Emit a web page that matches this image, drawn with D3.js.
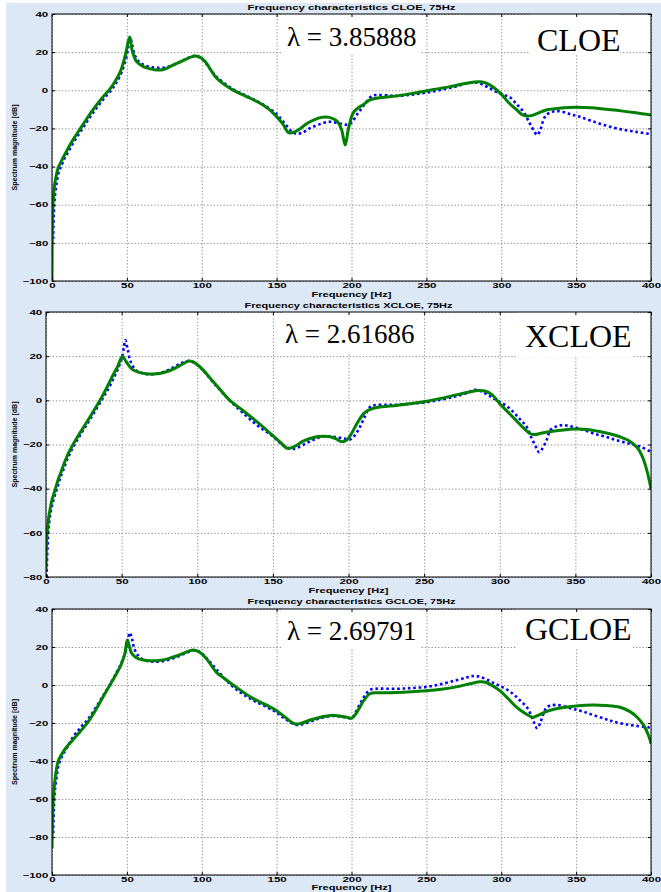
<!DOCTYPE html>
<html>
<head>
<meta charset="utf-8">
<script src="https://cdn.jsdelivr.net/npm/d3@7"></script>
<style>
  html, body { margin: 0; padding: 0; background: #ffffff; }
  svg { display: block; }
</style>
</head>
<body>
<svg id="fig" width="661" height="892"></svg>
<script>
// ---- axis ticks and labels ----
const freqTicks = [0, 50, 100, 150, 200, 250, 300, 350, 400];
const dbTicksWide = [-100, -80, -60, -40, -20, 0, 20, 40];
const dbTicksNarrow = [-80, -60, -40, -20, 0, 20, 40];
const methodNames = ["CLOE", "XCLOE", "GCLOE"];
const plotTitles = [
  "Frequency characteristics CLOE, 75Hz",
  "Frequency characteristics XCLOE, 75Hz",
  "Frequency characteristics GCLOE, 75Hz"
];
const lambdaValues = ["3.85888", "2.61686", "2.69791"];
const xLabel = "Frequency [Hz]";
const yLabel = "Spectrum magnitude [dB]";

// ---- spectra: [frequency Hz, magnitude dB] ----
// identified model (solid green)
const cloeModel = [[0,-100],[0.15,-78],[0.4,-66],[0.8,-58],[1.5,-51],[2.5,-46],[4,-41],[6,-37.5],[8,-34.5],[10,-31.5],[14,-26],[19,-20],[24,-14],[29,-8.5],[34,-3.5],[38.5,0.5],[42,4.5],[45.5,9.5],[48.5,17],[50,22],[51,26],[52,28],[53.5,21],[56.5,15],[61,12.4],[66,11.2],[70,10.6],[75,11],[81,13.3],[86,15],[90,16.5],[95,18],[98,17.6],[102,15.3],[110,6.3],[121,0],[130,-3.3],[139,-6.8],[145,-10],[150,-13.8],[154,-17.5],[158,-22.2],[162,-21.8],[166,-20],[170,-17.5],[175,-15.5],[180,-14.2],[185,-14.2],[189,-15.5],[191.5,-17.3],[193.5,-21],[195.8,-28.7],[198,-20],[201,-12],[204,-9.5],[208,-7.5],[212,-5.2],[218,-4],[225,-3.4],[235,-2.4],[245,-1],[255,0.4],[265,1.8],[275,3.4],[282,4.4],[286,4.5],[290,3.8],[295,1.5],[300,-2],[305,-6.5],[310,-10],[314,-12.8],[317,-13.5],[320,-13.3],[325,-11.8],[330,-10.3],[340,-9.3],[350,-8.9],[360,-9.2],[370,-10],[380,-10.8],[390,-11.8],[400,-13]];
const xcloeModel = [[0,-77],[0.2,-68],[0.5,-62],[1,-58],[1.8,-53],[2.6,-49.7],[4,-45],[6,-40.6],[8,-36],[10.4,-31.6],[13,-26.8],[15.9,-22.5],[20,-17.5],[25,-12],[30,-6.5],[35.7,0],[40,5.5],[44,11],[47.5,15.5],[50.5,20],[52,18.6],[54,16.5],[57,14],[61,12.8],[66,12],[71,11.9],[76,12.3],[82,13.5],[88,15.5],[94.5,17.8],[98,17.2],[102,15],[108,10.5],[115,5],[121.6,0],[130,-4.5],[140,-10],[150,-16],[155,-19],[159.5,-21.7],[164,-21],[170,-18.5],[177,-16.8],[183,-16.3],[188,-16.5],[192,-17.5],[195.5,-18.7],[198.8,-18],[202,-15],[206,-10],[210,-6],[213,-4.5],[216.4,-3.6],[222,-2.9],[232,-2.3],[242,-1.4],[252,-0.4],[262,1],[272,2.6],[280,3.8],[286,4.4],[290,4.2],[295,2.5],[300,-1.5],[305,-5],[310,-8.5],[315,-12],[320,-15],[323,-15.5],[328,-14.8],[335,-14],[342,-13.4],[350,-13],[358,-13.2],[365,-14],[372,-15],[379.5,-16.5],[386,-18.5],[391,-21.5],[394,-25],[397,-31],[400,-40]];
const gcloeModel = [[0,-86],[0.3,-72],[0.9,-60],[2,-50],[4.2,-40],[8,-34.5],[14,-28.8],[19,-24.3],[24,-19.5],[27,-16],[30,-12],[35,-5],[38.7,0],[42,4.5],[46,10.5],[48.5,16],[50.3,23.7],[51.5,21],[53,17],[56,14.5],[61,13.2],[66,12.8],[70,12.8],[76,13.5],[82,15],[88,16.8],[94.3,18.4],[98,17.5],[103,14],[110,6.5],[115,3.5],[121,0],[133,-6.5],[143,-10.5],[150,-13.5],[155,-16.5],[162.3,-20.5],[167,-20],[173,-18.3],[180,-16.8],[186,-16],[192,-16.3],[197,-17],[200,-17.5],[203,-15],[206,-11],[208,-8.4],[212.3,-4.6],[218,-4.1],[230,-4],[240,-3.6],[250,-3],[260,-2.2],[270,-1],[280,0.8],[286,1.7],[290,1.3],[295,-0.8],[299,-3],[305,-7.5],[310,-11.5],[315,-14.5],[319,-16.3],[321,-17],[325,-15.8],[330,-14],[336,-12.6],[341.4,-11.8],[350,-11],[361.5,-10.5],[370,-10.8],[379.3,-11.7],[386,-14],[390.4,-16.7],[395,-21],[399,-28],[400,-31]];

// measured spectrum (dotted blue)
const cloeMeasured = [[0.8,-78],[1.2,-65],[2,-55],[3,-49],[4.5,-43],[6.5,-39],[8.5,-35.5],[11,-32],[15,-26.5],[20,-20.5],[25,-14.5],[30,-9],[35,-4],[39.5,0],[43,4],[46.5,9.5],[49.5,17],[51,23],[52.3,27],[53.5,24],[55,19],[58,15],[62,13],[67,12],[72,11.8],[77,12.2],[82,13.5],[87,15.5],[92,17.3],[96,18],[100,16.5],[110,7],[121,0.5],[130,-3],[140,-7],[150,-12.5],[155,-17],[160,-21.5],[163,-22.8],[167,-22.3],[172,-20],[178,-18],[185,-16.5],[190,-17],[194,-17.7],[197,-18],[200,-17],[203,-13.5],[206,-10.3],[210,-6],[214,-2.8],[218,-2.5],[225,-2.7],[230,-3],[240,-2.3],[250,-1.2],[260,0.3],[270,2],[278,3.8],[282,4.2],[286,3.5],[290,2],[296,-0.5],[302,-2.5],[306,-3.8],[310,-7],[315,-11.5],[319,-17.3],[322,-21.5],[324,-23.4],[326,-21],[328,-16],[330,-13],[334,-11.3],[337,-10.9],[342,-11.5],[347,-12.8],[352,-13.8],[360,-16],[370,-18.5],[380,-20.5],[390,-21.8],[400,-23]];
const xcloeMeasured = [[0.4,-80],[1,-66],[2,-56],[3.5,-49],[5,-45],[7,-40.6],[9,-36],[11.4,-31.6],[14,-26.8],[16.9,-22.5],[21,-17.5],[26,-12],[31,-6.5],[36.7,0],[41,5],[45,10.5],[48,15],[50.5,20],[51.6,24.5],[52.5,27.3],[54,23],[56,17.5],[59,14],[63,12.5],[68,11.8],[73,12],[79,13.2],[85,15.2],[90,17],[95,17.8],[99,16.5],[104,13.5],[110,8.5],[116,4],[122,-0.5],[130,-5.5],[140,-11.5],[150,-16.3],[156,-20],[162,-22],[166,-21.5],[172,-19.5],[178,-17.5],[184,-16.3],[190,-16.5],[196.6,-17.2],[201,-17.7],[204,-16],[207.6,-12],[211,-7],[214.2,-3],[217,-2.2],[225,-2],[232,-2],[242,-1.5],[252,-0.8],[262,0.4],[272,2],[279,3.5],[282.5,4.7],[286,4.5],[292,2.5],[298,0],[304.6,-2.6],[310,-6],[314,-9],[317.8,-12],[321,-17],[324.4,-21.7],[326,-23.5],[328,-22],[331,-18],[333.5,-13.5],[337.6,-11.8],[342,-11.2],[348,-12],[355,-13.3],[362,-15],[370,-16.5],[378,-18.2],[386,-19.7],[393,-21],[400,-23.4]];
const gcloeMeasured = [[0.8,-78],[1.2,-66],[2,-55],[3,-49],[4.5,-42],[7,-37],[10,-33],[14,-27.5],[19,-22.5],[24,-18],[30,-11],[35,-4.5],[38.5,0],[42,5],[46,11],[49,17.5],[51,25],[52,27.5],[53.5,24],[55,19],[58,15],[62,13],[67,12.3],[72,12.3],[78,13.3],[84,15],[90,17],[95,18.3],[99,17.3],[104,13.5],[110,8],[121,-1],[133,-7.5],[143,-11.5],[150,-14.5],[156,-18],[163,-21],[168,-20.5],[174,-18.8],[180,-17.3],[186,-16.3],[192,-16.5],[197,-17.2],[200,-17.5],[203,-14],[206,-9.5],[209,-5.5],[212.3,-2.6],[216,-2],[230,-2],[240,-1.6],[250,-1],[260,0.5],[270,2.5],[277,4],[281.3,4.7],[285,4.5],[290,3],[295,1],[299,-0.5],[304,-2.5],[309,-5.5],[313,-8.5],[317,-11.6],[320,-16],[322,-20],[324,-22.8],[326,-20],[328,-15.5],[330,-12],[332.4,-10.9],[337,-10.5],[343,-11.5],[349,-12.8],[354.8,-14],[362,-16],[370,-18],[375,-19.3],[382,-20.5],[390,-21.5],[400,-22.4]];

// ---- figure layout ----
const svg = d3.select("#fig");
const FIG_BG = "#dde8f6";
const GREEN = "#008000";
const BLUE = "#0000ff";
const LABEL_FONT = "'Liberation Sans', Arial, Helvetica, sans-serif";
const SERIF_FONT = "'Liberation Serif', 'Times New Roman', Times, serif";

svg.append("rect").attr("x", 6).attr("y", 3).attr("width", 655).attr("height", 889).attr("fill", FIG_BG);

const panels = [
  { frame: {left: 52, right: 651, top: 14, bottom: 281}, dbTicks: dbTicksWide, dbMin: -100,
    model: cloeModel, measured: cloeMeasured,
    lambdaBox: [282, 420, 14, 54], nameBox: [530, 620, 14, 54],
    lambdaPos: [287, 46], namePos: [537, 50.5], titleY: 10, xLabelY: 296.5 },
  { frame: {left: 46, right: 651, top: 312, bottom: 577}, dbTicks: dbTicksNarrow, dbMin: -80,
    model: xcloeModel, measured: xcloeMeasured,
    lambdaBox: [282, 420, 312, 354], nameBox: [517, 633, 312, 357],
    lambdaPos: [285, 343], namePos: [525, 347], titleY: 307.5, xLabelY: 593 },
  { frame: {left: 52, right: 651, top: 609, bottom: 875}, dbTicks: dbTicksWide, dbMin: -100,
    model: gcloeModel, measured: gcloeMeasured,
    lambdaBox: [282, 420, 609, 649], nameBox: [517, 633, 609, 649],
    lambdaPos: [287, 640], namePos: [525, 640], titleY: 604, xLabelY: 890 }
];

// stretch small bold labels to the wide look of the printed figure
function widthOf(str) {
  let w = 0;
  for (const c of str) w += (c === "-") ? 4.8 : 6.4;
  return w;
}
function styleTickText(sel) {
  sel.selectAll("text")
    .attr("font-family", LABEL_FONT)
    .attr("font-weight", "bold")
    .attr("font-size", 7)
    .attr("fill", "#000")
    .each(function () {
      const t = this.textContent;
      if (t) d3.select(this).attr("textLength", widthOf(t)).attr("lengthAdjust", "spacingAndGlyphs");
    });
}

panels.forEach((p, i) => {
  const f = p.frame;
  const W = f.right - f.left, H = f.bottom - f.top;
  const x = d3.scaleLinear().domain([0, 400]).range([f.left, f.right]);
  const y = d3.scaleLinear().domain([p.dbMin, 40]).range([f.bottom, f.top]);
  const g = svg.append("g");

  // plot area
  g.append("rect").attr("x", f.left).attr("y", f.top).attr("width", W).attr("height", H).attr("fill", "#fff");

  // dotted grid
  const gx = g.append("g").attr("transform", `translate(0,${f.bottom})`)
    .call(d3.axisBottom(x).tickValues(freqTicks).tickSize(-H).tickFormat(""));
  const gy = g.append("g").attr("transform", `translate(${f.left},0)`)
    .call(d3.axisLeft(y).tickValues(p.dbTicks).tickSize(-W).tickFormat(""));
  [gx, gy].forEach(s => {
    s.select(".domain").remove();
    s.selectAll("line").attr("stroke", "#6e6e6e").attr("stroke-width", 0.8).attr("stroke-dasharray", "1.3,2");
  });

  // white boxes behind the annotations
  [p.lambdaBox, p.nameBox].forEach(b => {
    g.append("rect").attr("x", b[0]).attr("y", b[2]).attr("width", b[1] - b[0]).attr("height", b[3] - b[2]).attr("fill", "#fff");
  });

  // curves
  const clipId = "clip" + i;
  svg.append("clipPath").attr("id", clipId).append("rect")
    .attr("x", f.left).attr("y", f.top).attr("width", W).attr("height", H);
  const line = d3.line().x(d => x(d[0])).y(d => y(d[1])).curve(d3.curveCatmullRom.alpha(0.5));
  const curves = g.append("g").attr("clip-path", `url(#${clipId})`);
  curves.append("path").datum(p.measured).attr("d", line)
    .attr("fill", "none").attr("stroke", BLUE).attr("stroke-width", 2.6)
    .attr("stroke-dasharray", "2.6,2.8");
  curves.append("path").datum(p.model).attr("d", line)
    .attr("fill", "none").attr("stroke", GREEN).attr("stroke-width", 3)
    .attr("stroke-linejoin", "round");

  // frame
  g.append("rect").attr("x", f.left).attr("y", f.top).attr("width", W).attr("height", H)
    .attr("fill", "none").attr("stroke", "#000").attr("stroke-width", 1);

  // axes with inward ticks
  const ax = g.append("g").attr("transform", `translate(0,${f.bottom})`)
    .call(d3.axisBottom(x).tickValues(freqTicks).tickSize(-3).tickPadding(2.4));
  const ay = g.append("g").attr("transform", `translate(${f.left},0)`)
    .call(d3.axisLeft(y).tickValues(p.dbTicks).tickSize(-3).tickPadding(3.8));
  const axT = g.append("g").attr("transform", `translate(0,${f.top})`)
    .call(d3.axisTop(x).tickValues(freqTicks).tickSize(-3).tickFormat(""));
  const ayR = g.append("g").attr("transform", `translate(${f.right},0)`)
    .call(d3.axisRight(y).tickValues(p.dbTicks).tickSize(-3).tickFormat(""));
  [ax, ay, axT, ayR].forEach(s => {
    s.select(".domain").remove();
    s.selectAll("line").attr("stroke", "#000").attr("stroke-width", 1);
  });
  styleTickText(ax);
  styleTickText(ay);

  // title and axis labels
  const cx = (f.left + f.right) / 2;
  g.append("text").attr("x", cx).attr("y", p.titleY).attr("text-anchor", "middle")
    .attr("font-family", LABEL_FONT).attr("font-weight", "bold").attr("font-size", 6.5)
    .attr("textLength", 208).attr("lengthAdjust", "spacingAndGlyphs")
    .text(plotTitles[i]);
  g.append("text").attr("x", cx).attr("y", p.xLabelY).attr("text-anchor", "middle")
    .attr("font-family", LABEL_FONT).attr("font-weight", "bold").attr("font-size", 6.5)
    .attr("textLength", 80).attr("lengthAdjust", "spacingAndGlyphs")
    .text(xLabel);
  const cy = (f.top + f.bottom) / 2;
  g.append("text").attr("transform", `translate(17,${cy}) rotate(-90)`).attr("text-anchor", "middle")
    .attr("font-family", LABEL_FONT).attr("font-weight", "bold").attr("font-size", 6.3)
    .attr("textLength", 86).attr("lengthAdjust", "spacingAndGlyphs")
    .text(yLabel);

  // annotations
  g.append("text").attr("x", p.lambdaPos[0]).attr("y", p.lambdaPos[1])
    .attr("font-family", SERIF_FONT).attr("font-size", 27).attr("fill", "#000")
    .text("λ = " + lambdaValues[i]);
  g.append("text").attr("x", p.namePos[0]).attr("y", p.namePos[1])
    .attr("font-family", SERIF_FONT).attr("font-size", 32).attr("fill", "#000")
    .text(methodNames[i]);
});
</script>
</body>
</html>
